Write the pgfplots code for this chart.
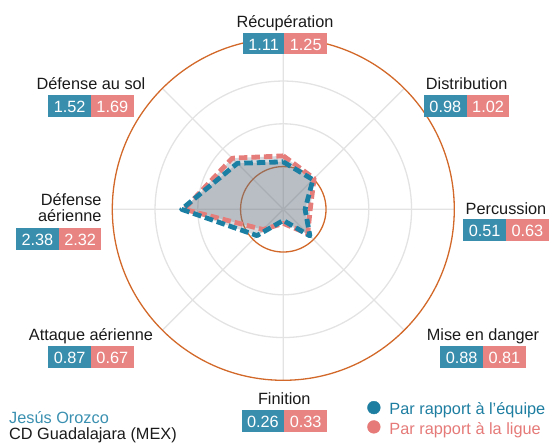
\documentclass[border=0pt]{standalone}
\usepackage{fontspec}
\setmainfont{Liberation Sans}
\usepackage{pgfplots}
\pgfplotsset{compat=1.18}
\usepgfplotslibrary{polar}
\definecolor{bluec}{HTML}{1B7FA3}
\definecolor{redc}{HTML}{E57E7B}
\definecolor{bluebox}{HTML}{3A8EAD}
\definecolor{redbox}{HTML}{E88583}
\definecolor{orangec}{HTML}{D2692A}
\definecolor{gridc}{HTML}{E3E3E3}
\definecolor{fillc}{RGB}{105,115,130}
\definecolor{legblue}{HTML}{1E7EA1}
\definecolor{legred}{HTML}{E57A78}
\definecolor{nameblue}{HTML}{3A90B0}
\definecolor{txt}{HTML}{1A1A1A}
\newcommand\valbox[2]{\begingroup\setlength{\fboxsep}{0pt}%
\colorbox{bluebox}{\rule[-4.4pt]{0pt}{21.7pt}\hspace{5.5pt}\textcolor{white}{#1}\hspace{5.5pt}}%
\colorbox{redbox}{\rule[-4.4pt]{0pt}{21.7pt}\hspace{5.5pt}\textcolor{white}{#2}\hspace{5.5pt}}\endgroup}
\begin{document}
\begin{tikzpicture}[font=\fontsize{16.3}{19}\selectfont, every node/.style={text=txt}]
\path[use as bounding box] (-283.3pt,-233.7pt) rectangle (267.7pt,209.3pt);
\begin{polaraxis}[
 at={(0pt,0pt)}, anchor=center,
 scale only axis, width=342pt, height=342pt,
 ymin=0, ymax=4,
 xtick={0,45,...,315}, ytick={2,3},
 xticklabels={}, yticklabels={},
 extra y ticks={1,4}, extra y tick labels={},
 extra y tick style={major grid style={draw=orangec, line width=1.3pt}},
 grid=major, major grid style={draw=gridc, line width=1.3pt},
 tick style={draw=none}, axis line style={draw=none},
 clip=false,
 legend style={at={(axis description cs:0.745,-0.0600)}, anchor=north west,
   draw=none, fill=none, inner sep=0pt, row sep=1.5pt,
   font=\fontsize{16.3}{19}\selectfont,
   nodes={inner sep=0pt, text height=12pt, text depth=4pt},
   /tikz/every odd column/.append style={column sep=9pt}},
 legend cell align=left,
 legend image code/.code={\fill[#1] (6.4pt,3.2pt) circle (6.4pt);},
]
% red (league)
\addplot[forget plot, draw=none, fill=fillc, fill opacity=0.27] coordinates {
 (90,1.25) (45,1.02) (0,0.63) (-45,0.81) (-90,0.33) (-135,0.67) (180,2.32) (135,1.69)} --cycle;
% blue (team)
\addplot[forget plot, draw=none, fill=fillc, fill opacity=0.27] coordinates {
 (90,1.11) (45,0.98) (0,0.51) (-45,0.88) (-90,0.26) (-135,0.87) (180,2.38) (135,1.52)} --cycle;
\addplot[forget plot, draw=redc, line width=4.8pt, dash pattern=on 8.5pt off 4pt, line join=round] coordinates {
 (90,1.25) (45,1.02) (0,0.63) (-45,0.81) (-90,0.33) (-135,0.67) (180,2.32) (135,1.69)} --cycle;
\addplot[forget plot, draw=bluec, line width=4.8pt, dash pattern=on 8.5pt off 4pt, line join=round] coordinates {
 (90,1.11) (45,0.98) (0,0.51) (-45,0.88) (-90,0.26) (-135,0.87) (180,2.38) (135,1.52)} --cycle;
\addlegendimage{legblue}
\addlegendentry{\textcolor{legblue}{Par rapport à l’équipe}}
\addlegendimage{legred}
\addlegendentry{\textcolor{legred}{Par rapport à la ligue}}
\end{polaraxis}
% category labels
\node[anchor=base, inner sep=0pt] at (1.7pt,182.0pt) {Récupération};
\node[anchor=north, inner sep=0pt] at (1.7pt,176.7pt) {\valbox{1.11}{1.25}};
\node[anchor=base, inner sep=0pt] at (183.4pt,119.8pt) {Distribution};
\node[anchor=north, inner sep=0pt] at (183.4pt,114.6pt) {\valbox{0.98}{1.02}};
\node[anchor=base, inner sep=0pt] at (-192.3pt,119.8pt) {Défense au sol};
\node[anchor=north, inner sep=0pt] at (-192.3pt,114.6pt) {\valbox{1.52}{1.69}};
\node[anchor=base, inner sep=0pt] at (222.7pt,-5.4pt) {Percussion};
\node[anchor=north, inner sep=0pt] at (222.7pt,-10.0pt) {\valbox{0.51}{0.63}};
\node[anchor=base east, inner sep=0pt] at (-181.6pt,3.3pt) {Défense};
\node[anchor=base east, inner sep=0pt] at (-181.6pt,-12.0pt) {aérienne};
\node[anchor=north east, inner sep=0pt] at (-181.6pt,-18.4pt) {\valbox{2.38}{2.32}};
\node[anchor=base, inner sep=0pt] at (199.7pt,-131.4pt) {Mise en danger};
\node[anchor=north, inner sep=0pt] at (199.7pt,-136.7pt) {\valbox{0.88}{0.81}};
\node[anchor=base, inner sep=0pt] at (-192.3pt,-131.4pt) {Attaque aérienne};
\node[anchor=north, inner sep=0pt] at (-192.3pt,-136.7pt) {\valbox{0.87}{0.67}};
\node[anchor=base, inner sep=0pt] at (1.0pt,-194.9pt) {Finition};
\node[anchor=north, inner sep=0pt] at (1.0pt,-200.7pt) {\valbox{0.26}{0.33}};
% player
\node[anchor=base west, inner sep=0pt, text=nameblue] at (-274.3pt,-214.0pt) {Jesús Orozco};
\node[anchor=base west, inner sep=0pt] at (-274.3pt,-230.0pt) {CD Guadalajara (MEX)};
\end{tikzpicture}
\end{document}
